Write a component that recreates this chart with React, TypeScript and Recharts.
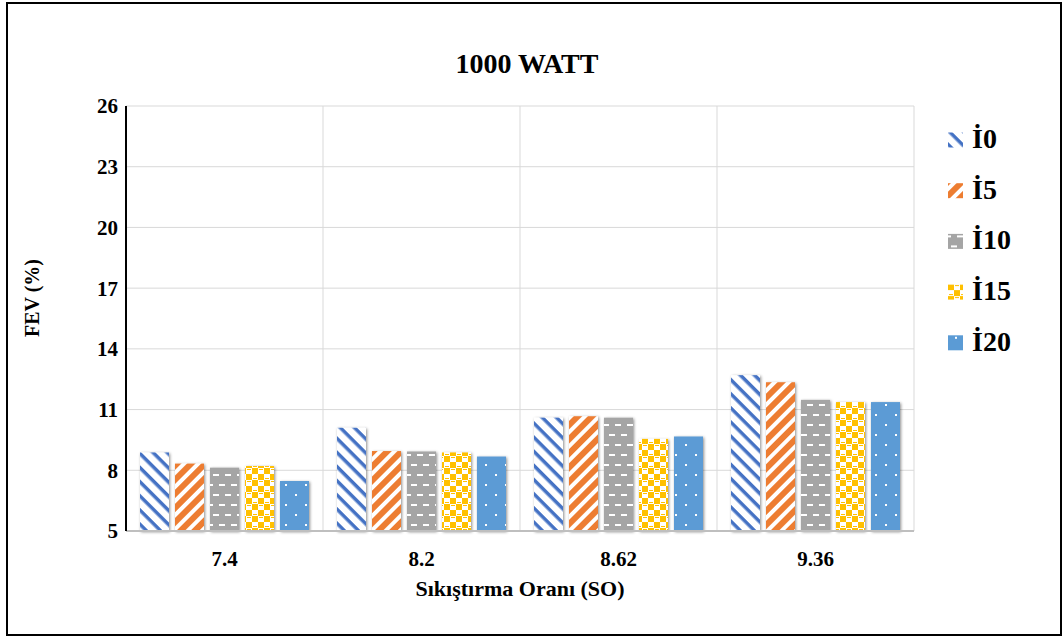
import React from 'react';
import { Bar, BarChart, CartesianGrid, XAxis, YAxis } from 'recharts';

const categories = ['7.4', '8.2', '8.62', '9.36'];
const i0 = [8.88, 10.1, 10.6, 12.7];
const i5 = [8.33, 8.95, 10.67, 12.35];
const i10 = [8.13, 8.93, 10.6, 11.48];
const i15 = [8.21, 8.88, 9.55, 11.37];
const i20 = [7.47, 8.68, 9.67, 11.37];
const yTicks = [5, 8, 11, 14, 17, 20, 23, 26];

const seriesNames = ['İ0', 'İ5', 'İ10', 'İ15', 'İ20'];
const seriesKeys = ['i0', 'i5', 'i10', 'i15', 'i20'];

const data = categories.map((so, i) => ({
  so,
  i0: i0[i],
  i5: i5[i],
  i10: i10[i],
  i15: i15[i],
  i20: i20[i],
}));

const FONT = '"Liberation Serif", "Times New Roman", serif';

const PatternDefs = () => (
  <svg width={0} height={0} style={{ position: 'absolute' }}>
    <defs>
      <pattern id="p-i0" width={10} height={10} patternUnits="userSpaceOnUse" patternTransform="rotate(45)">
        <rect width={10} height={10} fill="#fff" />
        <rect width={10} height={3.5} fill="#4472C4" />
      </pattern>
      <pattern id="p-i5" width={10} height={10} patternUnits="userSpaceOnUse" patternTransform="rotate(-45)">
        <rect width={10} height={10} fill="#fff" />
        <rect width={10} height={6} fill="#ED7D31" />
      </pattern>
      <pattern id="p-i10" width={12} height={20} patternUnits="userSpaceOnUse">
        <rect width={12} height={20} fill="#A5A5A5" />
        <rect x={3} y={4} width={6} height={2} fill="#fff" />
        <rect x={9} y={14} width={3} height={2} fill="#fff" />
        <rect x={0} y={14} width={3} height={2} fill="#fff" />
      </pattern>
      <pattern id="p-i15" width={12} height={12} patternUnits="userSpaceOnUse">
        <rect width={12} height={12} fill="#fff" />
        <rect x={0} y={0} width={6} height={6} fill="#FFC000" />
        <rect x={6} y={6} width={6} height={6} fill="#FFC000" />
        <rect x={7} y={1} width={4} height={1} fill="#FFC000" />
        <rect x={1} y={10} width={4} height={1} fill="#FFC000" />
      </pattern>
      <pattern id="p-i20" width={20} height={20} patternUnits="userSpaceOnUse">
        <rect width={20} height={20} fill="#5B9BD5" />
        <rect x={5} y={4} width={2} height={2} fill="#fff" />
        <rect x={15} y={14} width={2} height={2} fill="#fff" />
      </pattern>
      <filter id="bar-shadow" x="-30%" y="-10%" width="160%" height="120%">
        <feDropShadow dx={1} dy={1} stdDeviation={1.8} floodColor="#000" floodOpacity={0.45} />
      </filter>
    </defs>
  </svg>
);

const PatternBar = (props: any) => {
  const { x, y, width, height, fill } = props;
  if (!height || height <= 0) return null;
  return <rect x={x} y={y} width={width} height={height} fill={fill} filter="url(#bar-shadow)" />;
};

const tickStyle = { fill: '#000', fontSize: 21, fontWeight: 'bold' as const, fontFamily: FONT };

const App: React.FC = () => {
  return (
    <div style={{ position: 'relative', width: 1063, height: 639, background: '#fff', fontFamily: FONT }}>
      <style>{'body{margin:0}'}</style>
      <PatternDefs />
      <BarChart
        width={1063}
        height={639}
        data={data}
        margin={{ top: 106, right: 149, bottom: 48, left: 46 }}
        barCategoryGap={14}
        barGap={6}
      >
        <CartesianGrid
          stroke="#D9D9D9"
          strokeWidth={1}
          verticalCoordinatesGenerator={({ offset }: any) =>
            [1, 2, 3, 4].map((i) => offset.left + (i * offset.width) / 4)
          }
        />
        <XAxis
          dataKey="so"
          height={60}
          tickLine={false}
          tickMargin={14}
          axisLine={{ stroke: '#BFBFBF', strokeWidth: 2 }}
          tick={tickStyle}
        />
        <YAxis
          width={80}
          domain={[5, 26]}
          ticks={yTicks}
          interval={0}
          tickLine={false}
          tickMargin={2}
          axisLine={{ stroke: '#000', strokeWidth: 2 }}
          tick={tickStyle}
        />
        {seriesKeys.map((key, i) => (
          <Bar
            key={key}
            dataKey={key}
            name={seriesNames[i]}
            fill={`url(#p-${key})`}
            shape={PatternBar}
            isAnimationActive={false}
          />
        ))}
      </BarChart>

      <svg
        width={1063}
        height={639}
        style={{ position: 'absolute', left: 0, top: 0, pointerEvents: 'none' }}
      >
        <rect x={7} y={3} width={1054} height={632} fill="none" stroke="#000" strokeWidth={2} />
        <text x={527} y={73} textAnchor="middle" fontSize={28} fontWeight="bold" fontFamily={FONT}>
          1000 WATT
        </text>
        <text x={520} y={596} textAnchor="middle" fontSize={22} fontWeight="bold" fontFamily={FONT}>
          Sıkıştırma Oranı (SO)
        </text>
        <text
          transform="translate(39,298) rotate(-90)"
          textAnchor="middle"
          fontSize={20}
          fontWeight="bold"
          fontFamily={FONT}
        >
          FEV (%)
        </text>
        {seriesNames.map((name, i) => (
          <g key={name} transform={`translate(0, ${i * 50.7})`}>
            <rect x={948} y={132.5} width={15} height={15} fill={`url(#p-${seriesKeys[i]})`} />
            <text x={972} y={148} fontSize={28} fontWeight="bold" fontFamily={FONT}>
              {name}
            </text>
          </g>
        ))}
      </svg>
    </div>
  );
};

export default App;
